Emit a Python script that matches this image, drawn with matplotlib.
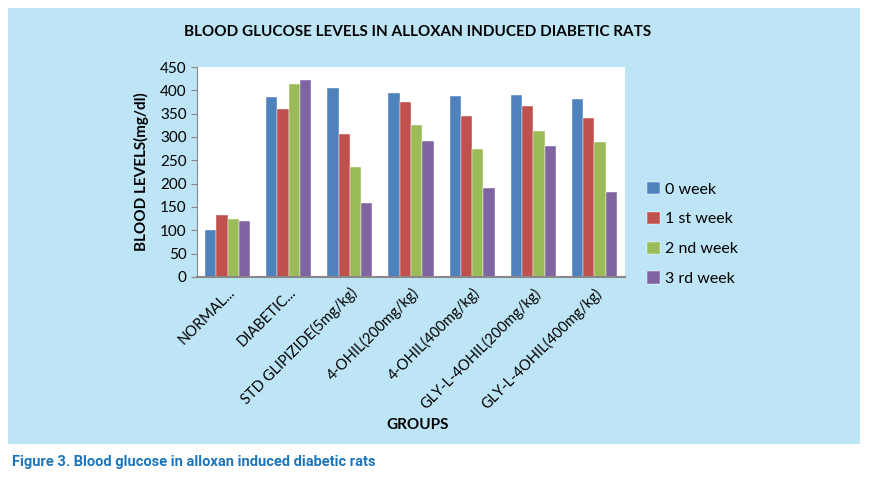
import numpy as np
import matplotlib
matplotlib.use('Agg')
from matplotlib import pyplot as plt
from matplotlib.patches import Rectangle

groups = ['NORMAL...', 'DIABETIC...', 'STD GLIPIZIDE(5mg/kg)', '4-OHIL(200mg/kg)',
          '4-OHIL(400mg/kg)', 'GLY-L-4OHIL(200mg/kg)', 'GLY-L-4OHIL(400mg/kg)']
series_names = ['0 week', '1 st week', '2 nd week', '3 rd week']
week0 = [101, 385, 405, 394, 387, 391, 381]
week1 = [132, 361, 307, 375, 344, 366, 341]
week2 = [124, 413, 235, 325, 275, 313, 290]
week3 = [120, 422, 159, 291, 190, 280, 182]
colors = ['#4F81BD', '#C0504D', '#9BBB59', '#8064A2']

plt.rcParams['font.family'] = ['Lato', 'DejaVu Sans']

fig = plt.figure(figsize=(8.71, 4.83), dpi=100)
fig.patch.set_facecolor('white')
# light blue panel behind the chart
panel = Rectangle((8 / 871, 1 - 444 / 483), 852 / 871, 436 / 483,
                  transform=fig.transFigure, facecolor='#BEE5F6',
                  edgecolor='none', zorder=-10)
fig.add_artist(panel)

ax = fig.add_axes([197 / 871, 1 - 277 / 483, 428 / 871, 210 / 483])
ax.set_zorder(1)
ax.set_facecolor('white')

x = np.arange(len(groups))
w = 0.185
for i, (vals, name) in enumerate(zip([week0, week1, week2, week3], series_names)):
    ax.bar(x + (i - 1.5) * w, vals, w, color=colors[i], label=name,
           edgecolor='white', linewidth=0.3)

ax.set_xlim(-0.5, len(groups) - 0.5)
ax.set_ylim(0, 450)
ax.set_yticks(np.arange(0, 451, 50))
ax.tick_params(axis='y', labelsize=11, length=4, color='#888888', direction='out')
ax.tick_params(axis='x', length=0, labelsize=10.5, pad=6)
ax.set_xticks(x)
ax.set_xticklabels(groups, rotation=45, ha='right', rotation_mode='anchor')
for s in ['top', 'right']:
    ax.spines[s].set_visible(False)
ax.spines['left'].set_color('#888888')
ax.spines['bottom'].set_color('#888888')
ax.spines['bottom'].set_linewidth(1.5)

ax.set_ylabel('BLOOD LEVELS(mg/dl)', fontsize=11, fontweight='bold', labelpad=8)
fig.text(418 / 871, 1 - 425 / 483, 'GROUPS', ha='center', va='center',
         fontsize=11, fontweight='bold')
fig.text(418 / 871, 1 - 32 / 483, 'BLOOD GLUCOSE LEVELS IN ALLOXAN INDUCED DIABETIC RATS',
         ha='center', va='center', fontsize=11, fontweight='bold')

ax.legend(loc='center left', bbox_to_anchor=(633 / 871, 1 - 234 / 483),
          bbox_transform=fig.transFigure, frameon=False, fontsize=11.5,
          handlelength=0.8, handleheight=0.8, handletextpad=0.3, labelspacing=0.95)

fig.text(12 / 871, 1 - 462 / 483, 'Figure 3. Blood glucose in alloxan induced diabetic rats',
         ha='left', va='center', fontsize=10.5, fontweight='bold', color='#1B75BC',
         family=['Roboto', 'DejaVu Sans'])

fig.savefig('out.png', dpi=100)
